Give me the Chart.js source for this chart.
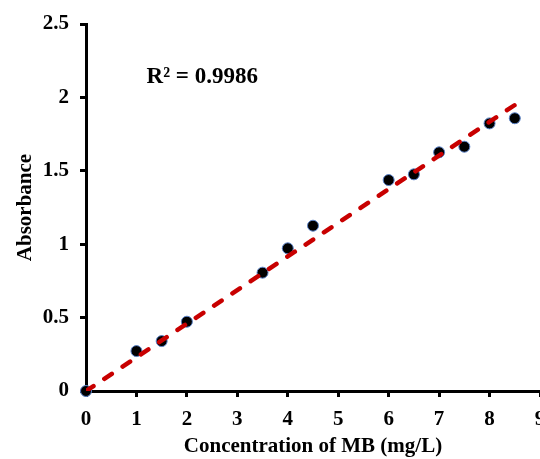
<!DOCTYPE html>
<html>
<head>
<meta charset="utf-8">
<script src="https://cdn.jsdelivr.net/npm/chart.js@4.4.1/dist/chart.umd.min.js"></script>
<style>
  html, body { margin: 0; padding: 0; background: #fff; overflow: hidden; }
  #wrap { width: 540px; height: 459px; overflow: hidden; }
</style>
</head>
<body>
<div id="wrap"><canvas id="calibChart" width="560" height="459"></canvas></div>
<script>
// MB calibration: concentration (mg/L) vs absorbance
const concentration = [0, 1, 1.5, 2, 3.5, 4, 4.5, 6, 6.5, 7, 7.5, 8, 8.5];
const absorbance = [0, 0.272, 0.34, 0.472, 0.806, 0.972, 1.126, 1.437, 1.476, 1.626, 1.664, 1.823, 1.858];

// linear trendline (forced through origin)
const trendX = [0, 8.5];
const trendY = [0, 1.948];
const rSquaredLabel = 'R\u00B2 = 0.9986';

const xTicks = [0, 1, 2, 3, 4, 5, 6, 7, 8, 9];
const yTicks = [0, 0.5, 1, 1.5, 2, 2.5];

const serif = "'Liberation Serif', 'Times New Roman', serif";

const rSquaredPlugin = {
    id: 'rSquared',
    afterDatasetsDraw(chart) {
        const ctx = chart.ctx;
        const x = chart.scales.x.getPixelForValue(1.2);
        const y = chart.scales.y.getPixelForValue(2.14);
        ctx.save();
        ctx.font = 'bold 23px ' + serif;
        ctx.fillStyle = '#000';
        ctx.textAlign = 'left';
        ctx.textBaseline = 'middle';
        ctx.fillText(rSquaredLabel, x, y);
        ctx.restore();
    }
};

function noEdgePadding(scale) {
    scale.paddingLeft = 0;
    scale.paddingRight = 0;
    scale.paddingTop = 0;
    scale.paddingBottom = 0;
}

const ctx = document.getElementById('calibChart').getContext('2d');
new Chart(ctx, {
    type: 'scatter',
    data: {
        datasets: [{
            label: 'Absorbance',
            data: concentration.map((c, i) => ({ x: c, y: absorbance[i] })),
            pointRadius: 5.5,
            pointBackgroundColor: '#000',
            pointBorderColor: '#5a82c8',
            pointBorderWidth: 1,
            clip: false,
            order: 1
        }, {
            label: 'Linear',
            type: 'line',
            data: trendX.map((c, i) => ({ x: c, y: trendY[i] })),
            borderColor: '#c80000',
            borderWidth: 4.5,
            borderDash: [9, 13],
            borderCapStyle: 'round',
            pointRadius: 0,
            fill: false,
            order: 0
        }]
    },
    options: {
        responsive: false,
        animation: false,
        events: [],
        // the canvas runs 20px past the visible page, so the last x label is cut off
        layout: { padding: { top: 24, right: 20, left: 0, bottom: 0 } },
        plugins: {
            legend: { display: false },
            tooltip: { enabled: false }
        },
        scales: {
            x: {
                type: 'linear',
                min: 0,
                max: 9,
                afterBuildTicks: s => { s.ticks = xTicks.map(v => ({ value: v })); },
                afterFit: s => { s.height = 68; noEdgePadding(s); },
                border: { display: true, color: '#000', width: 3 },
                grid: { display: true, drawOnChartArea: false, drawTicks: true, tickLength: 6, tickWidth: 3, tickColor: '#000' },
                ticks: { color: '#000', padding: 10, maxRotation: 0, font: { family: serif, size: 21, weight: 'bold' } },
                title: {
                    display: true,
                    text: 'Concentration of MB (mg/L)',
                    color: '#000',
                    padding: { top: 0, bottom: 0 },
                    font: { family: serif, size: 21, weight: 'bold' }
                }
            },
            y: {
                type: 'linear',
                min: 0,
                max: 2.5,
                afterBuildTicks: s => { s.ticks = yTicks.map(v => ({ value: v })); },
                afterFit: s => { s.width = 86; noEdgePadding(s); },
                border: { display: true, color: '#000', width: 3 },
                grid: { display: true, drawOnChartArea: false, drawTicks: true, tickLength: 6, tickWidth: 3, tickColor: '#000' },
                ticks: {
                    color: '#000',
                    padding: 11,
                    font: { family: serif, size: 21, weight: 'bold' },
                    callback: v => String(v)
                },
                title: {
                    display: true,
                    text: 'Absorbance',
                    color: '#000',
                    padding: { top: 13, bottom: 0 },
                    font: { family: serif, size: 21, weight: 'bold' }
                }
            }
        }
    },
    plugins: [rSquaredPlugin]
});
</script>
</body>
</html>
